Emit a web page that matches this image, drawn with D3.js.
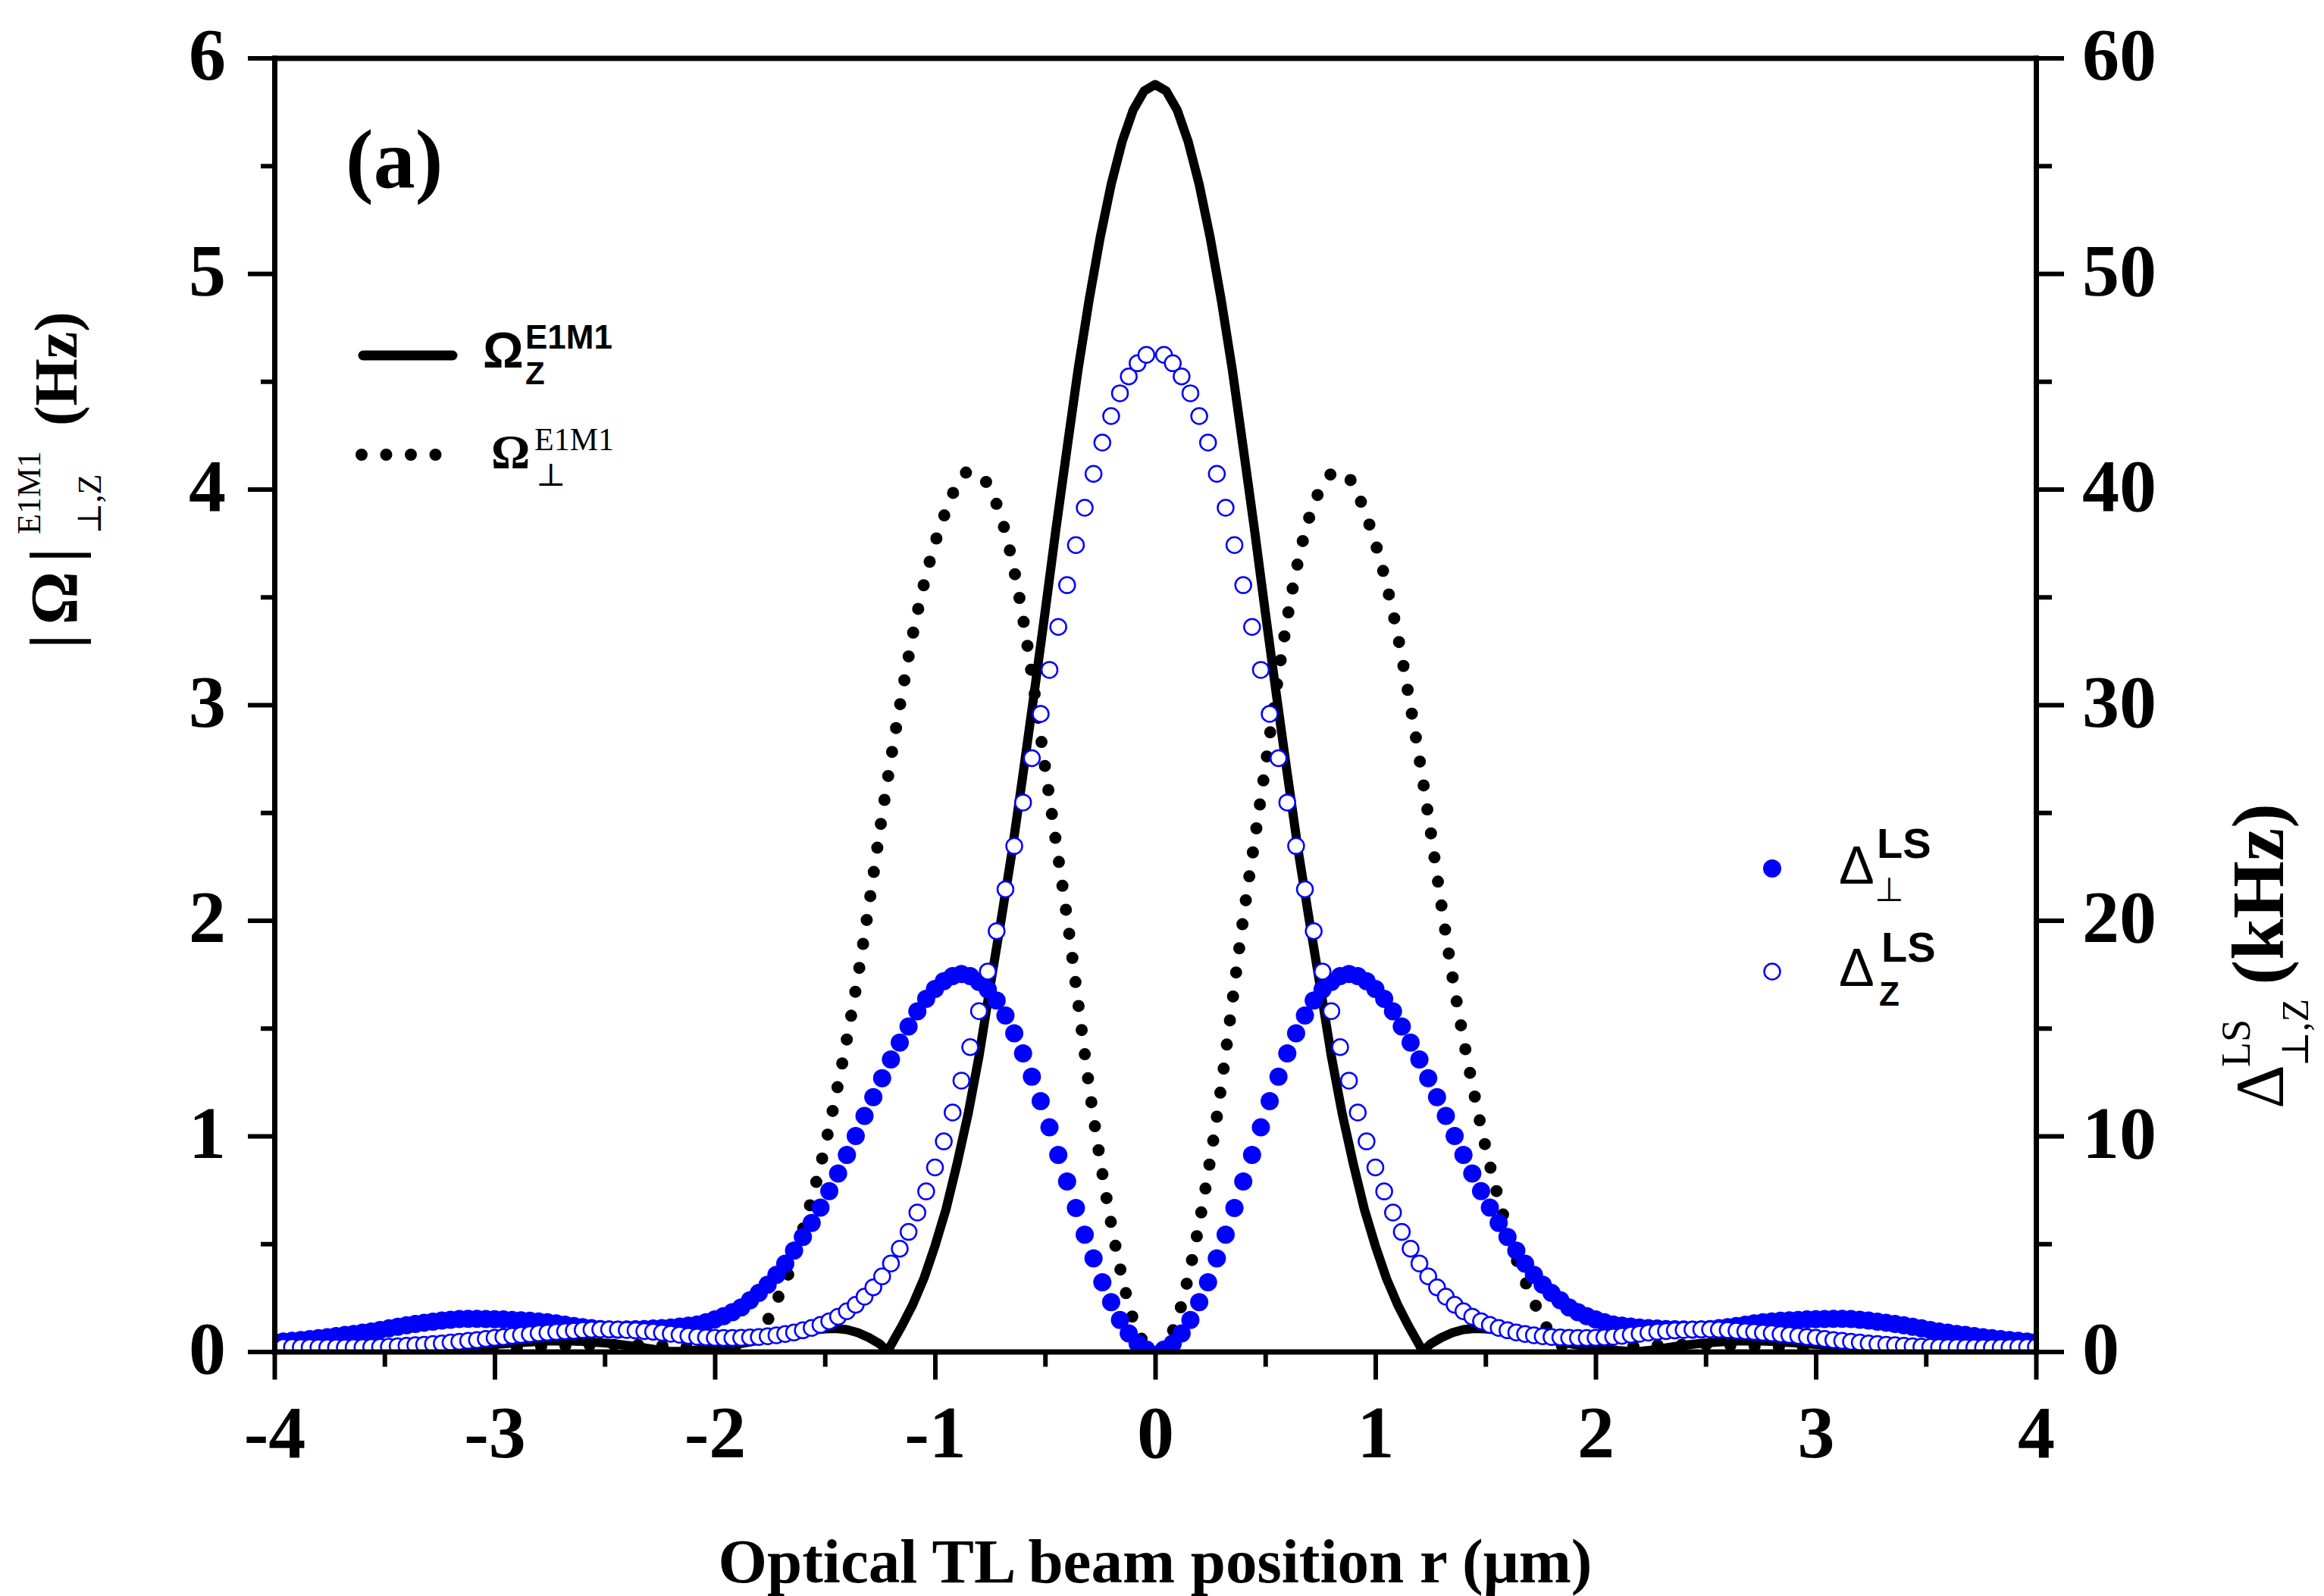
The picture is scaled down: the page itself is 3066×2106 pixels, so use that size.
<!DOCTYPE html>
<html>
<head>
<meta charset="utf-8">
<script src="https://cdn.jsdelivr.net/npm/d3@7"></script>
<style>
  html, body { margin: 0; padding: 0; background: #fff; }
  svg { display: block; }
</style>
</head>
<body>
<svg id="chart" width="3066" height="2106"></svg>
<script>
// sample positions of the marker series (0.04 um step, r = 0 not plotted)
var rMarks = d3.range(-100, 101).filter(function (i) { return i !== 0; })
  .map(function (i) { return +(i * 0.04).toFixed(2); });

// light shift, perpendicular (kHz) - filled blue dots
var deltaPerp = [
  0.44,0.47,0.50,0.54,0.58,0.62,0.67,0.72,0.77,0.82,
  0.88,0.93,1.00,1.08,1.15,1.22,1.28,1.34,1.39,1.44,
  1.48,1.51,1.52,1.52,1.51,1.50,1.49,1.47,1.45,1.43,
  1.40,1.36,1.31,1.25,1.19,1.13,1.09,1.05,1.03,1.02,
  1.03,1.04,1.05,1.07,1.09,1.12,1.16,1.20,1.26,1.36,
  1.49,1.64,1.83,2.05,2.38,2.72,3.10,3.56,4.08,4.68,
  5.32,5.97,6.68,7.44,8.26,9.12,10.00,10.93,11.80,12.68,
  13.55,14.33,15.08,15.78,16.36,16.82,17.18,17.42,17.51,17.42,
  17.14,16.79,16.28,15.59,14.76,13.83,12.75,11.62,10.40,9.12,
  7.89,6.66,5.42,4.32,3.22,2.29,1.47,0.84,0.38,0.10,
  0.10,0.38,0.84,1.47,2.29,3.22,4.32,5.42,6.66,7.89,
  9.12,10.40,11.62,12.75,13.83,14.76,15.59,16.28,16.79,17.14,
  17.42,17.51,17.42,17.18,16.82,16.36,15.78,15.08,14.33,13.55,
  12.68,11.80,10.93,10.00,9.12,8.26,7.44,6.68,5.97,5.32,
  4.68,4.08,3.56,3.10,2.72,2.38,2.05,1.83,1.64,1.49,
  1.36,1.26,1.20,1.16,1.12,1.09,1.07,1.05,1.04,1.03,
  1.02,1.03,1.05,1.09,1.13,1.19,1.25,1.31,1.36,1.40,
  1.43,1.45,1.47,1.49,1.50,1.51,1.52,1.52,1.51,1.48,
  1.44,1.39,1.34,1.28,1.22,1.15,1.08,1.00,0.93,0.88,
  0.82,0.77,0.72,0.67,0.62,0.58,0.54,0.50,0.47,0.44
];

// light shift, z (kHz) - open blue circles
var deltaZ = [
  0.22,0.21,0.21,0.20,0.20,0.19,0.19,0.19,0.19,0.20,
  0.20,0.21,0.22,0.23,0.25,0.27,0.30,0.32,0.35,0.38,
  0.42,0.46,0.50,0.54,0.59,0.64,0.68,0.73,0.77,0.81,
  0.85,0.88,0.91,0.94,0.97,1.00,1.02,1.03,1.03,1.02,
  1.00,0.98,0.95,0.92,0.88,0.83,0.78,0.73,0.69,0.66,
  0.64,0.63,0.63,0.64,0.66,0.68,0.71,0.76,0.82,0.89,
  0.99,1.10,1.24,1.41,1.62,1.87,2.17,2.55,2.98,3.49,
  4.09,4.77,5.55,6.45,7.43,8.54,9.75,11.09,12.57,14.12,
  15.79,17.63,19.50,21.44,23.45,25.47,27.52,29.58,31.62,33.61,
  35.55,37.41,39.14,40.71,42.16,43.39,44.45,45.23,45.84,46.23,
  46.23,45.84,45.23,44.45,43.39,42.16,40.71,39.14,37.41,35.55,
  33.61,31.62,29.58,27.52,25.47,23.45,21.44,19.50,17.63,15.79,
  14.12,12.57,11.09,9.75,8.54,7.43,6.45,5.55,4.77,4.09,
  3.49,2.98,2.55,2.17,1.87,1.62,1.41,1.24,1.10,0.99,
  0.89,0.82,0.76,0.71,0.68,0.66,0.64,0.63,0.63,0.64,
  0.66,0.69,0.73,0.78,0.83,0.88,0.92,0.95,0.98,1.00,
  1.02,1.03,1.03,1.02,1.00,0.97,0.94,0.91,0.88,0.85,
  0.81,0.77,0.73,0.68,0.64,0.59,0.54,0.50,0.46,0.42,
  0.38,0.35,0.32,0.30,0.27,0.25,0.23,0.22,0.21,0.20,
  0.20,0.19,0.19,0.19,0.19,0.20,0.20,0.21,0.21,0.22
];

// sample positions of the two Rabi frequency curves (0.05 um step + the node at 1.214)
var rLine = d3.merge([d3.range(-80, 81).map(function (i) { return +(i * 0.05).toFixed(2); }), [-1.214, 1.214]])
  .sort(d3.ascending);

// |Omega_Z| (Hz) - solid line
var omegaZ = [
  0.001,0.001,0.001,0.002,0.002,0.003,0.003,0.004,0.005,0.006,0.007,0.008,0.010,0.012,0.014,0.017,
  0.020,0.023,0.026,0.030,0.033,0.037,0.041,0.044,0.047,0.049,0.050,0.049,0.047,0.044,0.040,0.035,
  0.029,0.022,0.014,0.006,0.001,0.001,0.005,0.011,0.018,0.026,0.034,0.043,0.053,0.063,0.073,0.083,
  0.092,0.100,0.105,0.107,0.102,0.088,0.065,0.035,0,0.03,0.12,0.22,0.34,0.49,0.66,0.87,1.10,1.37,
  1.69,2.00,2.32,2.68,3.05,3.43,3.82,4.19,4.556,4.878,5.166,5.413,5.612,5.758,5.847,
  5.877,
  5.847,5.758,5.612,5.413,5.166,4.878,4.556,4.19,3.82,3.43,3.05,2.68,2.32,2.00,1.69,1.37,
  1.10,0.87,0.66,0.49,0.34,0.22,0.12,0.03,0,0.035,0.065,0.088,0.102,0.107,0.105,0.100,
  0.092,0.083,0.073,0.063,0.053,0.043,0.034,0.026,0.018,0.011,0.005,0.001,0.001,0.006,0.014,0.022,
  0.029,0.035,0.040,0.044,0.047,0.049,0.050,0.049,0.047,0.044,0.041,0.037,0.033,0.030,0.026,0.023,
  0.020,0.017,0.014,0.012,0.010,0.008,0.007,0.006,0.005,0.004,0.003,0.003,0.002,0.002,0.001,0.001,0.001
];

// |Omega_perp| (Hz) - dotted line
var omegaPerp = [
  0.001,0.001,0.001,0.001,0.001,0.002,0.002,0.002,0.003,0.003,0.004,0.004,0.005,0.006,0.007,0.008,
  0.009,0.01,0.012,0.013,0.015,0.017,0.019,0.021,0.023,0.025,0.027,0.029,0.03,0.031,0.032,0.032,
  0.032,0.031,0.03,0.028,0.026,0.023,0.02,0.016,0.012,0.008,0.005,0.025,0.075,0.165,0.28,0.40,
  0.566,0.745,0.95,1.19,1.45,1.74,2.07,2.42,2.66,2.75,3.05,3.33,3.56,3.75,3.90,4.02,4.08,4.07,
  4.00,3.87,3.67,3.40,3.07,2.71,2.36,2.01,1.62,1.23,0.89,0.594,0.345,0.15,0.04,
  0,
  0.04,0.15,0.345,0.594,0.89,1.23,1.62,2.01,2.36,2.71,3.07,3.40,3.67,3.87,4.00,4.07,
  4.08,4.02,3.90,3.75,3.56,3.33,3.05,2.75,2.66,2.42,2.07,1.74,1.45,1.19,0.95,0.745,
  0.566,0.40,0.28,0.165,0.075,0.025,0.005,0.008,0.012,0.016,0.02,0.023,0.026,0.028,0.03,0.031,
  0.032,0.032,0.032,0.031,0.03,0.029,0.027,0.025,0.023,0.021,0.019,0.017,0.015,0.013,0.012,0.01,
  0.009,0.008,0.007,0.006,0.005,0.004,0.004,0.003,0.003,0.002,0.002,0.002,0.001,0.001,0.001,0.001,0.001
];

// ticks
var xTicks = [-4, -3, -2, -1, 0, 1, 2, 3, 4];
var xMinor = [-3.5, -2.5, -1.5, -0.5, 0.5, 1.5, 2.5, 3.5];
var leftTicks = [0, 1, 2, 3, 4, 5, 6];
var leftMinor = [0.5, 1.5, 2.5, 3.5, 4.5, 5.5];
var rightTicks = [0, 10, 20, 30, 40, 50, 60];
var rightMinor = [5, 15, 25, 35, 45, 55];

var SERIF = '"Liberation Serif", "Times New Roman", "DejaVu Serif", serif';
var SANS = '"Liberation Sans", Arial, "DejaVu Sans", sans-serif';
var BLUE = '#0000ff';

var plot = {left: 362, right: 2686, top: 76.5, bottom: 1783.5};

var x = d3.scaleLinear().domain([-4, 4]).range([plot.left, plot.right]);
var yL = d3.scaleLinear().domain([0, 6]).range([plot.bottom, plot.top]);
var yR = d3.scaleLinear().domain([0, 60]).range([plot.bottom, plot.top]);

var svg = d3.select('#chart');

svg.append('defs').append('clipPath').attr('id', 'plotclip')
  .append('rect')
  .attr('x', plot.left).attr('y', plot.top)
  .attr('width', plot.right - plot.left).attr('height', plot.bottom - plot.top);

var data = svg.append('g').attr('clip-path', 'url(#plotclip)');

var lineData = rLine.map(function (r, i) { return {r: r, z: omegaZ[i], p: omegaPerp[i]}; });

// solid: Omega_Z
data.append('path')
  .datum(lineData)
  .attr('fill', 'none')
  .attr('stroke', '#000')
  .attr('stroke-width', 12)
  .attr('stroke-linejoin', 'round')
  .attr('d', d3.line().x(function (d) { return x(d.r); }).y(function (d) { return yL(d.z); }));

// dotted: Omega_perp
data.append('path')
  .datum(lineData)
  .attr('fill', 'none')
  .attr('stroke', '#000')
  .attr('stroke-width', 16)
  .attr('stroke-linecap', 'round')
  .attr('stroke-dasharray', '0 32')
  .attr('d', d3.line().curve(d3.curveMonotoneX)
    .x(function (d) { return x(d.r); }).y(function (d) { return yL(d.p); }));

var markData = rMarks.map(function (r, i) { return {r: r, perp: deltaPerp[i], z: deltaZ[i]}; });

data.append('g').selectAll('circle')
  .data(markData).enter().append('circle')
  .attr('cx', function (d) { return x(d.r); })
  .attr('cy', function (d) { return yR(d.perp); })
  .attr('r', 12)
  .attr('fill', BLUE);

data.append('g').selectAll('circle')
  .data(markData).enter().append('circle')
  .attr('cx', function (d) { return x(d.r); })
  .attr('cy', function (d) { return yR(d.z); })
  .attr('r', 10.5)
  .attr('fill', '#fff')
  .attr('stroke', BLUE)
  .attr('stroke-width', 2.5);

// axes
function styleAxis(g, major) {
  g.select('.domain').attr('stroke-width', 7).attr('stroke-linecap', 'square');
  g.selectAll('.tick line').attr('stroke-width', 6);
  g.selectAll('.tick text')
    .attr('font-family', SERIF).attr('font-weight', 'bold')
    .attr('font-size', 98).attr('fill', '#000');
  if (!major) {
    g.select('.domain').remove();
    g.selectAll('.tick text').remove();
  }
}
var fmt = function (d) { return String(d); };

svg.append('g').attr('transform', 'translate(' + plot.left + ',0)')
  .call(d3.axisLeft(yL).tickValues(leftMinor).tickSize(18).tickFormat(''))
  .call(styleAxis, false);
svg.append('g').attr('transform', 'translate(' + plot.left + ',0)')
  .call(d3.axisLeft(yL).tickValues(leftTicks).tickSize(35).tickSizeOuter(0).tickPadding(29).tickFormat(fmt))
  .call(styleAxis, true)
  .selectAll('.tick text').attr('dy', '0.29em');

svg.append('g').attr('transform', 'translate(' + plot.right + ',0)')
  .call(d3.axisRight(yR).tickValues(rightMinor).tickSize(21).tickFormat(''))
  .call(styleAxis, false);
svg.append('g').attr('transform', 'translate(' + plot.right + ',0)')
  .call(d3.axisRight(yR).tickValues(rightTicks).tickSize(37).tickSizeOuter(0).tickPadding(24).tickFormat(fmt))
  .call(styleAxis, true)
  .selectAll('.tick text').attr('dy', '0.29em');

svg.append('g').attr('transform', 'translate(0,' + plot.bottom + ')')
  .call(d3.axisBottom(x).tickValues(xMinor).tickSize(20).tickFormat(''))
  .call(styleAxis, false);
svg.append('g').attr('transform', 'translate(0,' + plot.bottom + ')')
  .call(d3.axisBottom(x).tickValues(xTicks).tickSize(37).tickSizeOuter(0).tickPadding(33).tickFormat(fmt))
  .call(styleAxis, true);

svg.append('g').attr('transform', 'translate(0,' + plot.top + ')')
  .call(d3.axisTop(x).tickValues([]).tickSizeOuter(0))
  .call(styleAxis, true);

// axis titles
svg.append('text')
  .attr('x', (plot.left + plot.right) / 2).attr('y', 2088)
  .attr('text-anchor', 'middle')
  .attr('font-family', SERIF).attr('font-weight', 'bold').attr('font-size', 83)
  .text('Optical TL beam position r (\u03bcm)');

var lt = svg.append('g').attr('transform', 'translate(101,0) rotate(-90)')
  .attr('font-family', SERIF);
lt.append('text').attr('x', -856).attr('y', 0)
  .attr('font-weight', 'bold').attr('font-size', 88).attr('letter-spacing', 12)
  .text('|\u03a9|');
lt.append('text').attr('x', -705).attr('y', -48).attr('font-size', 44).text('E1M1');
lt.append('text').attr('x', -705).attr('y', 32).attr('font-size', 44).text('\u22a5,Z');
lt.append('text').attr('x', -411).attr('y', 0).attr('text-anchor', 'end')
  .attr('font-weight', 'bold').attr('font-size', 80).text('(Hz)');

var rt = svg.append('g').attr('transform', 'translate(3012,0) rotate(-90)')
  .attr('font-family', SERIF);
rt.append('text').attr('x', -1463).attr('y', 0).attr('font-size', 90).text('\u0394');
rt.append('text').attr('x', -1408).attr('y', -44).attr('font-size', 54).text('LS');
rt.append('text').attr('x', -1408).attr('y', 33).attr('font-size', 50).text('\u22a5,Z');
rt.append('text').attr('x', -1060).attr('y', 0).attr('text-anchor', 'end')
  .attr('font-weight', 'bold').attr('font-size', 98).text('(kHz)');

// panel label
svg.append('text').attr('x', 456).attr('y', 247)
  .attr('font-family', SERIF).attr('font-weight', 'bold').attr('font-size', 110)
  .text('(a)');

// legend, upper left
var leg = svg.append('g');
leg.append('line').attr('x1', 479).attr('x2', 597).attr('y1', 469).attr('y2', 469)
  .attr('stroke', '#000').attr('stroke-width', 13).attr('stroke-linecap', 'round');
leg.append('text').attr('x', 637).attr('y', 485)
  .attr('font-family', SANS).attr('font-weight', 'bold').attr('font-size', 67).text('\u03a9');
leg.append('text').attr('x', 693).attr('y', 460)
  .attr('font-family', SANS).attr('font-weight', 'bold').attr('font-size', 44).text('E1M1');
leg.append('text').attr('x', 693).attr('y', 507)
  .attr('font-family', SANS).attr('font-weight', 'bold').attr('font-size', 42).text('Z');

leg.append('line').attr('x1', 477).attr('x2', 577).attr('y1', 600).attr('y2', 600)
  .attr('stroke', '#000').attr('stroke-width', 16).attr('stroke-linecap', 'round')
  .attr('stroke-dasharray', '0 32.5');
leg.append('text').attr('x', 648).attr('y', 618)
  .attr('font-family', SERIF).attr('font-weight', 'bold').attr('font-size', 64).text('\u03a9');
leg.append('text').attr('x', 705).attr('y', 594)
  .attr('font-family', SERIF).attr('font-size', 42).text('E1M1');
leg.append('text').attr('x', 707).attr('y', 641)
  .attr('font-family', SERIF).attr('font-size', 42).text('\u22a5');

// legend, right
var leg2 = svg.append('g').attr('font-family', SANS);
leg2.append('circle').attr('cx', 2338).attr('cy', 1146).attr('r', 12).attr('fill', BLUE);
leg2.append('text').attr('x', 2426).attr('y', 1166).attr('font-size', 70).text('\u0394');
leg2.append('text').attr('x', 2476).attr('y', 1132).attr('font-weight', 'bold').attr('font-size', 56).text('LS');
leg2.append('text').attr('x', 2473).attr('y', 1189).attr('font-size', 44).text('\u22a5');

leg2.append('circle').attr('cx', 2338).attr('cy', 1282).attr('r', 10.5)
  .attr('fill', '#fff').attr('stroke', BLUE).attr('stroke-width', 2.5);
leg2.append('text').attr('x', 2426).attr('y', 1301).attr('font-size', 70).text('\u0394');
leg2.append('text').attr('x', 2482).attr('y', 1269).attr('font-weight', 'bold').attr('font-size', 56).text('LS');
leg2.append('text').attr('x', 2479).attr('y', 1327).attr('font-weight', 'bold').attr('font-size', 44).text('Z');
</script>
</body>
</html>
